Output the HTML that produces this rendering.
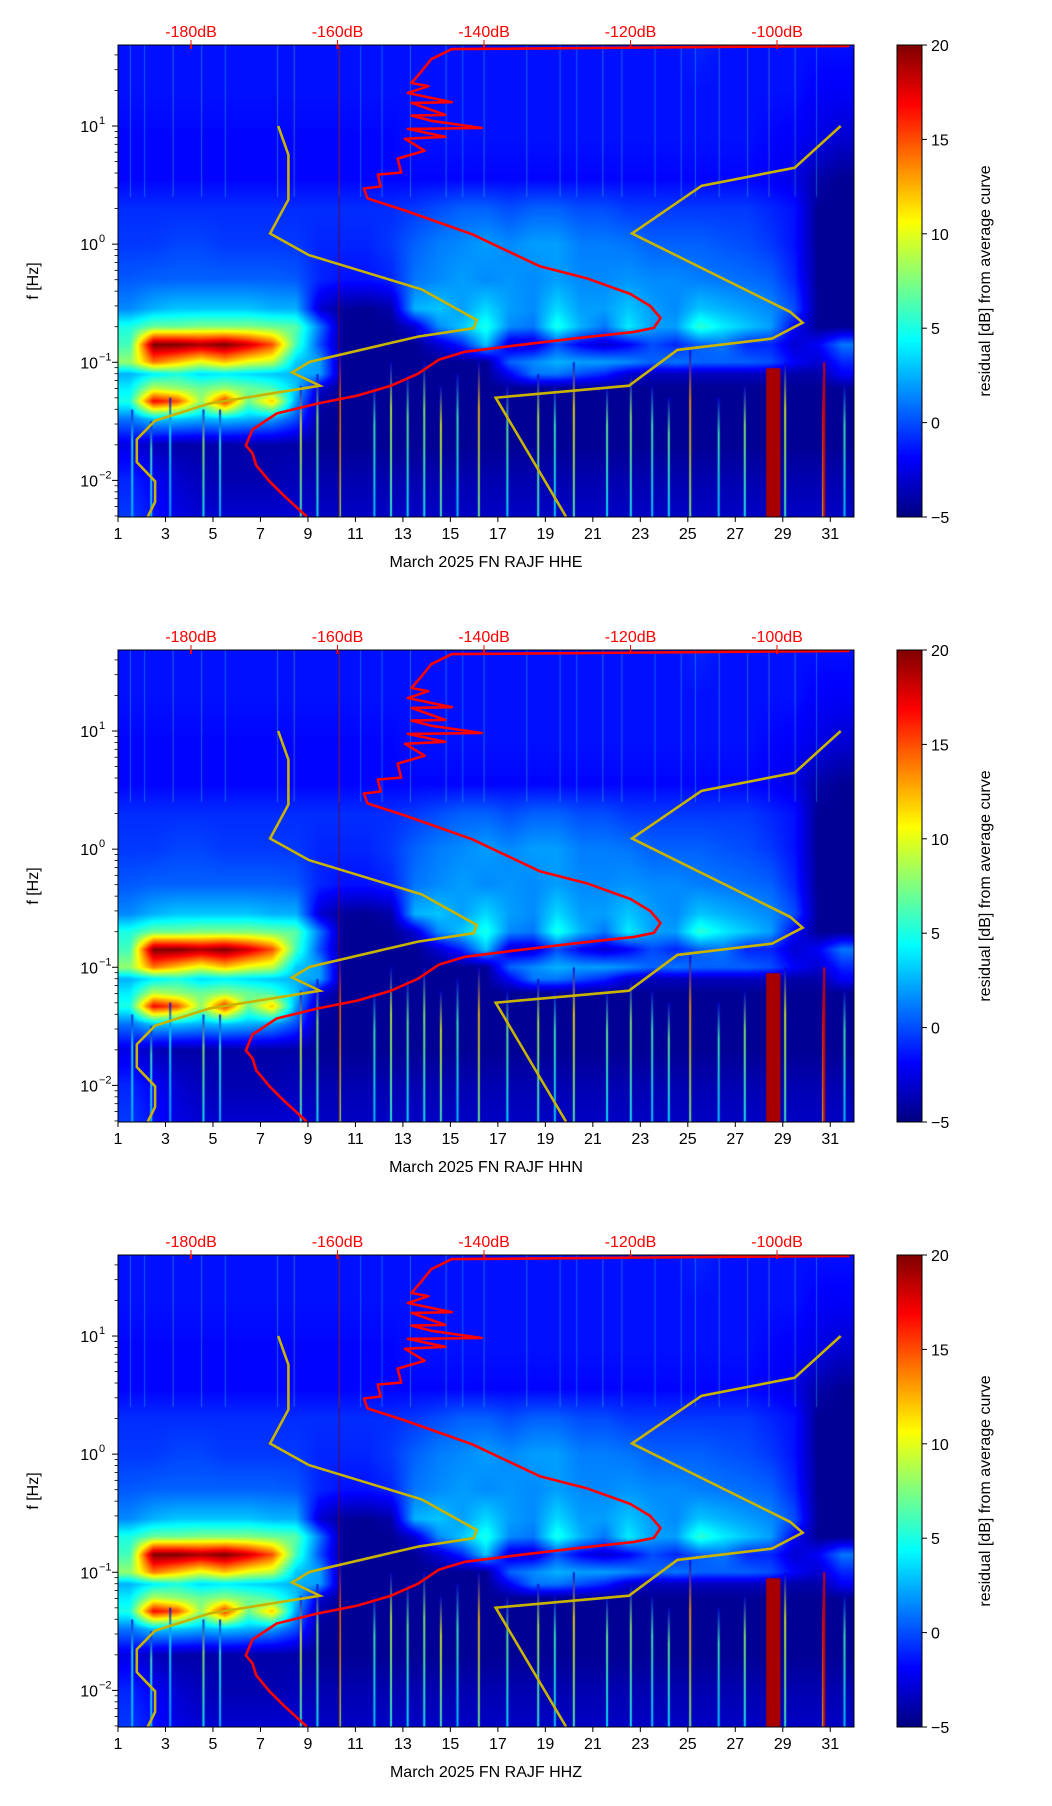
<!DOCTYPE html>
<html><head><meta charset="utf-8">
<style>
html,body{margin:0;padding:0;background:#fff;}
#root{position:relative;width:1052px;height:1806px;overflow:hidden;font-family:"Liberation Sans","DejaVu Sans",sans-serif;}
canvas{position:absolute;}
svg{position:absolute;left:0;top:0;}
</style></head>
<body>
<div id="root">
<svg id="ov" width="1052" height="1806"></svg>
</div>
<script>
// ---------- data ----------
const channels = ["HHE","HHN","HHZ"];
const dayTicks = [1,3,5,7,9,11,13,15,17,19,21,23,25,27,29,31];
const dbTicks = [-180,-160,-140,-120,-100];
const yDecades = [1,0,-1,-2];
const cbTicks = [20,15,10,5,0,-5];
// heatmap grid: rows of log10(f) and residual dB per day (days 1..31)
const gridLogF = [1.7,1.3,0.9,0.55,0.3,0.0,-0.3,-0.55,-0.7,-0.85,-1.0,-1.1,-1.22,-1.33,-1.48,-1.7,-2.0,-2.31];
const gridVals = [
 [-1.5,-1.5,-1.5,-1.5,-1.5,-1.5,-1.5,-1.5,-1.5,-1.5,-1.5,-1.5,-1.5,-1.5,-1.5,-1.5,-1.5,-1.5,-1.5,-1.5,-1.5,-1.5,-1.5,-1.5,-1,-1.5,-1.5,-1.5,-1.5,-1.5,-1.5],
 [-1.5,-1.5,-1.5,-1.5,-1.5,-1.5,-1.5,-1.5,-1.5,-1.5,-1.5,-1.5,-1.5,-1.5,-1.5,-1.5,-1.5,-1.5,-1.5,-1.5,-1.5,-1.5,-1.5,-1.5,-1.5,-1.5,-1.5,-1.5,-1.5,-2,-2],
 [-1.8,-1.8,-1.8,-1.8,-1.8,-1.8,-1.8,-1.8,-1.8,-1.8,-1.8,-1.8,-1.5,-1.5,-1.5,-1.5,-1.5,-1.5,-1.5,-1.5,-1.5,-1.5,-1.5,-1.5,-1.5,-1.5,-1.5,-1.8,-2,-2.5,-3],
 [-1.8,-1.8,-1.8,-1.8,-1.8,-1.8,-1.8,-1.8,-1.8,-1.8,-1.8,-1.8,-1.8,-1.8,-1.8,-1.8,-1.8,-1.8,-1.8,-1.8,-1.8,-1.8,-1.8,-1.8,-1.8,-1.8,-1.8,-2,-2.5,-4,-4.5],
 [-0.8,-0.8,-0.8,-0.8,-0.8,-0.8,-0.8,-0.8,-0.8,-0.8,-0.8,-0.8,-0.5,0,0.5,0.5,0,0.5,0.5,0,0,-0.5,-0.5,-0.5,-0.5,-0.5,-0.5,-1,-1.5,-4.5,-4.5],
 [-0.5,-0.5,-0.2,-0.2,-0.5,-0.5,-0.5,-0.5,-1,-1,-1,-0.5,0.5,1.2,1.5,2,1.5,2,2,1.2,1.2,1,0.5,0.5,0.5,0.2,0,-0.5,-1.5,-4.5,-4.5],
 [0.3,0.5,0.5,0.5,0.5,0.5,0.5,0.3,-1,-1.5,-1.5,-1,1,1.5,2,1.5,1.8,1.5,2,1.5,1.5,1.8,1.5,1.5,1.2,1,0.8,0.5,-1,-4.5,-4.5],
 [1.5,2.5,3,3,3,3,2.5,2.5,-3,-4.3,-4.5,-4,2.5,3,2,3.5,2,1.5,3.5,2,2,3,2,1.5,3,2.5,2,1.5,0,-4.5,-4.5],
 [5,7,7,7.5,7.5,7.5,7,6.5,1,-4.5,-4.5,-4.5,-3,1.5,3,5,1.5,1,5,2.5,1,4,2,2,5.5,4,3,2,-2,-4.5,-4.5],
 [6,20,20,19,20,18,15,6,0,-4.5,-4.5,-4.5,-4.5,-3,-1,3,-3,-3,0,-2,-3,-2,0,-1,0.5,1,-1,-1,-3,-2,1],
 [8,14,12,10,12,10,9,3,2,-4.5,-4.5,-4.5,-4.5,-4.5,-4.5,-4.5,0.5,1.5,2.5,2,2,1.5,0.5,1,0.5,0.5,0.5,0,-2,-3,-1],
 [2.5,4,5,3.5,4,3.5,3,2.5,2,-4.5,-4.5,-4.5,-4.5,-4.5,-4.5,-4.5,-2,1,1,0,-1,-3,-3.5,-3.5,-3.5,-3.5,-3.5,-3.5,-4,-4,-2],
 [4,9,8,7,8,7,6,3,-3,-4.5,-4.5,-4.5,-4.5,-4.5,-4.5,-4.5,-4.5,-4.5,-4.5,-4.5,-4.5,-4.5,-4.5,-4.5,-4.5,-4.5,-4.5,-4.5,-4.5,-4.5,-4.5],
 [5,17,15,8,16,7,12,2,-4,-4.5,-4.5,-4.5,-4.5,-4.5,-4.5,-4.5,-4.5,-4.5,-4.5,-4.5,-4.5,-4.5,-4.5,-4.5,-4.5,-4.5,-4.5,-4.5,-4.5,-4.5,-4.5],
 [1,3,3,2.5,3,2.5,2,0,-4.3,-4.5,-4.5,-4.5,-4.5,-4.5,-4.5,-4.5,-4.5,-4.5,-4.5,-4.5,-4.5,-4.5,-4.5,-4.5,-4.5,-4.5,-4.5,-4.5,-4.5,-4.5,-4.5],
 [-2.5,-3.5,-4,-4,-4,-4,-4,-4,-4.5,-4.5,-4.5,-4.5,-4.5,-4.5,-4.5,-4.5,-4.5,-4.5,-4.5,-4.5,-4.5,-4.5,-4.5,-4.5,-4.5,-4.5,-4.5,-4.5,-4.5,-4.5,-4.5],
 [-1,-2,-3,-3.5,-3.8,-3.8,-3.8,-3.5,-3.8,-3.8,-3.8,-3.8,-3.8,-3.8,-3.8,-3.8,-3.8,-3.8,-3.8,-3.8,-3.8,-3.8,-3.8,-3.8,-3.8,-3.8,-3.8,-3.8,-3.8,-3.8,-3.8],
 [-0.5,-1.5,-2.5,-3,-3,-3,-3,-3,-3.3,-3.3,-3.3,-3.3,-3.3,-3.3,-3.3,-3.3,-3.3,-3.3,-3.3,-3.3,-3.3,-3.3,-3.3,-3.3,-3.3,-3.3,-3.3,-3.3,-3.3,-3.3,-3.3]
];
// transient stripes (day, top log f, value dB)
const lowStripeDays = [1.6,2.4,3.2,4.6,5.3,8.7,9.4,10.35,11.8,12.5,13.2,13.9,14.6,15.3,16.2,17.4,18.7,19.4,20.2,21.6,22.6,23.5,24.2,25.1,26.3,27.4,29.1,30.7,31.6];
const lowStripeTop  = [-1.4,-1.5,-1.3,-1.4,-1.4,-1.2,-1.1,-0.9,-1.2,-1.0,-1.1,-1.0,-1.2,-1.1,-1.0,-1.2,-1.1,-1.2,-1.0,-1.2,-1.1,-1.2,-1.3,-0.9,-1.3,-1.2,-1.0,-1.1,-1.2];
const lowStripeVal  = [5,6,4,8,5,10,8,14,6,9,7,8,10,6,12,7,9,6,11,7,8,6,7,13,6,8,10,16,6];
const hfStripeDays = [1.5,2.1,3.3,4.5,5.5,7.7,8.4,10.3,11.2,12.1,13.3,14.8,15.5,16.4,18.2,19.6,20.3,21.4,22.2,23.6,24.7,25.3,26.3,27.5,28.4,29.5,30.4];
const hfStripeVal  = [6,5,7,6,5,6,8,12,6,5,7,6,5,6,7,6,5,7,6,5,6,5,7,6,8,6,5];
// average PSD curve (dB, log10 f)
const redDb = [-90.1,-144.4,-147.2,-148.5,-149.9,-147.6,-150.4,-144.4,-149.9,-145.3,-149.9,-147.2,-140.3,-150.4,-145.3,-150.8,-148.1,-151.8,-151.3,-154.5,-154.1,-156.4,-155.9,-150.8,-146.2,-141.6,-137.0,-132.4,-126.0,-120.0,-117.3,-115.9,-116.8,-119.5,-126.9,-136.1,-142.6,-146.2,-149.0,-152.7,-157.3,-162.8,-168.3,-171.6,-172.5,-171.6,-171.1,-169.3,-167.4,-164.2];
const redLogF = [1.678,1.651,1.566,1.465,1.364,1.337,1.280,1.202,1.196,1.094,1.088,1.044,0.983,0.976,0.909,0.892,0.791,0.724,0.606,0.589,0.488,0.471,0.387,0.285,0.184,0.083,-0.052,-0.187,-0.288,-0.422,-0.524,-0.625,-0.709,-0.743,-0.793,-0.861,-0.911,-0.979,-1.097,-1.198,-1.282,-1.350,-1.434,-1.569,-1.704,-1.771,-1.872,-2.007,-2.125,-2.307];
// noise models
const nlnmDb = [-168.1,-166.7,-166.7,-169.2,-163.9,-148.5,-141.0,-141.4,-149.0,-163.8,-166.2,-162.4,-177.5,-184.9,-187.4,-187.4,-184.9,-184.9,-185.9];
const nlnmLogF = [1.0,0.757,0.377,0.09,-0.093,-0.383,-0.642,-0.712,-0.783,-0.996,-1.087,-1.198,-1.349,-1.494,-1.653,-1.845,-2.008,-2.183,-2.307];
const nhnmDb = [-91.3,-97.6,-110.3,-119.8,-98.2,-96.5,-100.7,-113.6,-120.2,-138.4,-128.8];
const nhnmLogF = [1.0,0.646,0.494,0.09,-0.574,-0.665,-0.80,-0.895,-1.198,-1.30,-2.307];

// ---------- layout ----------
const AX_L=118, AX_W=736, AX_H=472, CB_X=897, CB_W=25;
const panelTops=[45,650,1255];
const LF_TOP=1.686, LF_BOT=-2.31;
const xDay=d=>AX_L+(d-1)*AX_W/31;
const xDb=db=>191+(db+180)*7.325;
const yLf=(lf,top)=>top+(LF_TOP-lf)*AX_H/(LF_TOP-LF_BOT);
function jet(v){let t=(v+5)/25;t=Math.max(0,Math.min(1,t));
 const c=x=>Math.round(255*Math.max(0,Math.min(1,x)));
 return [c(1.5-Math.abs(4*t-3)),c(1.5-Math.abs(4*t-2)),c(1.5-Math.abs(4*t-1))];}
function rgb(v){const c=jet(v);return `rgb(${c[0]},${c[1]},${c[2]})`;}
function gridAt(day,lf){
 let cx=day-1.5;cx=Math.max(0,Math.min(30,cx));const i0=Math.floor(cx),i1=Math.min(30,i0+1),fx=cx-i0;
 let r=0;while(r<gridLogF.length-2&&lf<gridLogF[r+1])r++;
 let fy=(gridLogF[r]-lf)/(gridLogF[r]-gridLogF[r+1]);fy=Math.max(0,Math.min(1,fy));
 const a=gridVals[r][i0]*(1-fx)+gridVals[r][i1]*fx, b=gridVals[r+1][i0]*(1-fx)+gridVals[r+1][i1]*fx;
 return a*(1-fy)+b*fy;}

const root=document.getElementById('root');
const svg=document.getElementById('ov');
const NS='http://www.w3.org/2000/svg';
function mk(tag,attrs,parent){const e=document.createElementNS(NS,tag);for(const k in attrs)e.setAttribute(k,attrs[k]);(parent||svg).appendChild(e);return e;}

panelTops.forEach((top,p)=>{
 const cv=document.createElement('canvas');cv.width=AX_W;cv.height=AX_H;
 cv.style.left=AX_L+'px';cv.style.top=top+'px';
 
 
 root.insertBefore(cv,svg);
 const ctx=cv.getContext('2d');const img=ctx.createImageData(AX_W,AX_H);
 for(let y=0;y<AX_H;y++){const lf=LF_TOP-(y+0.5)*(LF_TOP-LF_BOT)/AX_H;
  for(let x=0;x<AX_W;x++){const d=1+(x+0.5)*31/AX_W;const c=jet(gridAt(d,lf));const k=(y*AX_W+x)*4;
   img.data[k]=c[0];img.data[k+1]=c[1];img.data[k+2]=c[2];img.data[k+3]=255;}}
 ctx.putImageData(img,0,0);
 hfStripeDays.forEach((d,i)=>{ctx.fillStyle=rgb(hfStripeVal[i]);ctx.globalAlpha=0.35;
  ctx.fillRect(xDay(d)-AX_L,0,1,yLf(0.4,0));});
 lowStripeDays.forEach((d,i)=>{const y0=yLf(lowStripeTop[i],0);
  const g=ctx.createLinearGradient(0,y0,0,AX_H);g.addColorStop(0,rgb(-3));g.addColorStop(0.3,rgb(lowStripeVal[i]));g.addColorStop(1,rgb(lowStripeVal[i]*0.6));
  ctx.globalAlpha=0.85;ctx.fillStyle=g;ctx.fillRect(xDay(d)-AX_L-1,y0,2,AX_H-y0);});
 ctx.globalAlpha=1;
 ctx.fillStyle=rgb(19);ctx.fillRect(xDay(28.3)-AX_L,yLf(-1.05,0),xDay(28.9)-xDay(28.3),AX_H);
 ctx.globalAlpha=0.7;ctx.fillStyle=rgb(21);ctx.fillRect(xDay(10.3)-AX_L,0,1,AX_H);ctx.globalAlpha=1;
 ctx.fillStyle=rgb(18);ctx.fillRect(xDay(30.7)-AX_L,yLf(-1.0,0),2,AX_H);

 const cb=document.createElement('canvas');cb.width=CB_W;cb.height=AX_H;cb.style.left=CB_X+'px';cb.style.top=top+'px';
 
 
 root.insertBefore(cb,svg);
 const cctx=cb.getContext('2d');
 for(let y=0;y<AX_H;y++){cctx.fillStyle=rgb(20-25*(y+0.5)/AX_H);cctx.fillRect(0,y,CB_W,1);}

 const g=mk('g',{});
 
 
 const cp=mk('clipPath',{id:'clip'+p},g);mk('rect',{x:AX_L,y:top,width:AX_W,height:AX_H},cp);
 const lines=mk('g',{'clip-path':`url(#clip${p})`},g);
 const toPts=(dbs,lfs)=>dbs.map((v,i)=>xDb(v).toFixed(1)+','+yLf(lfs[i],top).toFixed(1)).join(' ');
 const l1=mk('polyline',{points:toPts(nlnmDb,nlnmLogF),fill:'none',stroke:'#c8b400','stroke-width':2.6},lines);
 
 
 const l2=mk('polyline',{points:toPts(nhnmDb,nhnmLogF),fill:'none',stroke:'#c8b400','stroke-width':2.6},lines);
 
 
 const l3=mk('polyline',{points:toPts(redDb,redLogF),fill:'none',stroke:'#ff0000','stroke-width':2.6,'stroke-linejoin':'round'},lines);
 
 
 mk('rect',{x:AX_L,y:top,width:AX_W,height:AX_H,fill:'none',stroke:'#000','stroke-width':1},g);
 mk('rect',{x:CB_X,y:top,width:CB_W,height:AX_H,fill:'none',stroke:'#000','stroke-width':1},g);
 dayTicks.forEach(d=>{const x=xDay(d);mk('line',{x1:x,x2:x,y1:top+AX_H,y2:top+AX_H+5,stroke:'#000'},g);
  const t=mk('text',{x:x,y:top+AX_H+22,'text-anchor':'middle','font-size':16},g);t.textContent=d;
  
  });
 const xl=mk('text',{x:AX_L+AX_W/2,y:top+AX_H+50,'text-anchor':'middle','font-size':16},g);
 xl.textContent='March 2025 FN RAJF  '+channels[p];
 
 
 dbTicks.forEach(db=>{const x=xDb(db);mk('line',{x1:x,x2:x,y1:top,y2:top-5,stroke:'#f00'},g);
  mk('line',{x1:x,x2:x,y1:top,y2:top+4,stroke:'#f00','stroke-width':2},g);
  const t=mk('text',{x:x,y:top-8,'text-anchor':'middle','font-size':16,fill:'#f00'},g);t.textContent=db+'dB';
  
  });
 yDecades.forEach(e=>{const y=yLf(e,top);mk('line',{x1:AX_L,x2:AX_L-6,y1:y,y2:y,stroke:'#000'},g);
  const t=mk('text',{x:AX_L-20,y:y+6,'text-anchor':'end','font-size':16},g);t.textContent='10';
  
  
  const s=mk('text',{x:AX_L-19,y:y-2,'text-anchor':'start','font-size':11},g);s.textContent=e<0?'\u2212'+(-e):''+e;});
 for(let e=-3;e<=1;e++)for(let m=2;m<=9;m++){const lf=e+Math.log10(m);if(lf>LF_TOP||lf<LF_BOT)continue;
  const y=yLf(lf,top);mk('line',{x1:AX_L,x2:AX_L-3.5,y1:y,y2:y,stroke:'#000','stroke-width':0.8},g);}
 const yl=mk('text',{x:0,y:0,'text-anchor':'middle','font-size':16,transform:`translate(38,${top+AX_H/2}) rotate(-90)`},g);
 yl.textContent='f [Hz]';
 
 
 cbTicks.forEach(v=>{const y=top+(20-v)/25*AX_H;mk('line',{x1:CB_X+CB_W,x2:CB_X+CB_W+5,y1:y,y2:y,stroke:'#000'},g);
  const t=mk('text',{x:CB_X+CB_W+9,y:y+6,'font-size':16},g);t.textContent=v<0?'\u2212'+(-v):v;
  
  });
 const cl=mk('text',{x:0,y:0,'text-anchor':'middle','font-size':16,transform:`translate(990,${top+AX_H/2}) rotate(-90)`},g);
 cl.textContent='residual [dB] from average curve';
 
 
});
</script>
</body></html>
